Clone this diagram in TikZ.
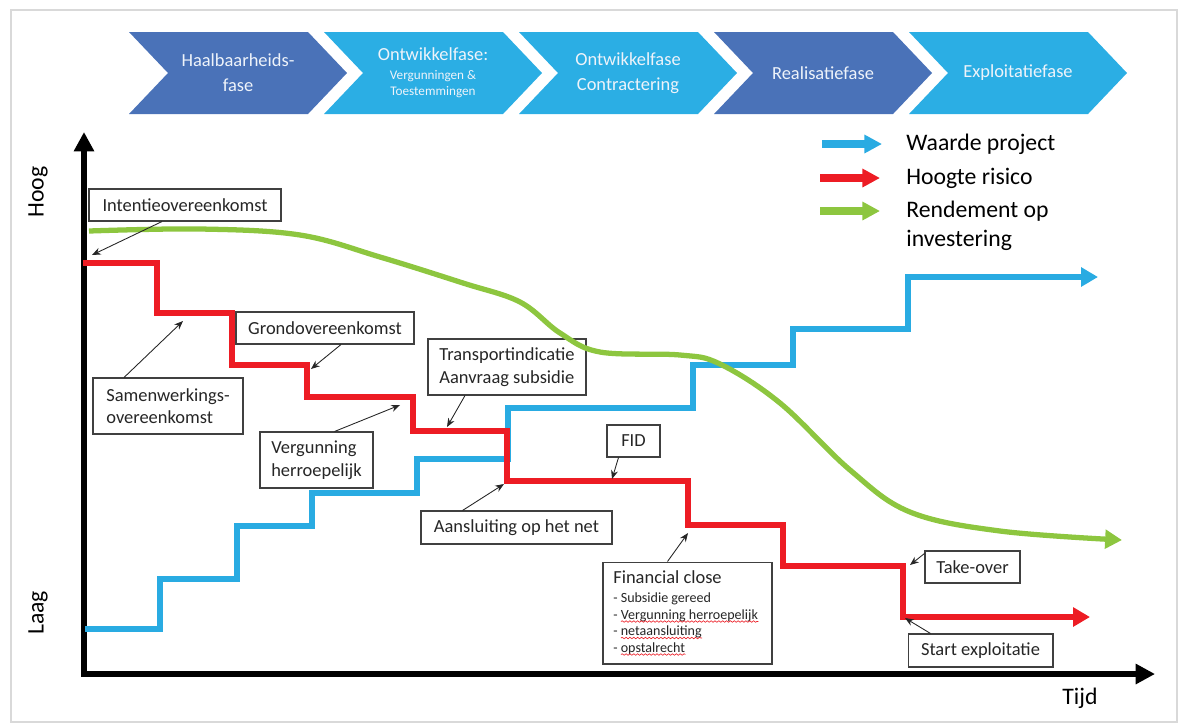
\documentclass[tikz,border=0pt]{standalone}
\usepackage{fontspec}
\setmainfont{Carlito}
\usepackage{tikz}
\usetikzlibrary{arrows.meta,calc,decorations.pathmorphing}
\usepackage{xcolor}

\definecolor{phdark}{HTML}{4A72B8}
\definecolor{phlight}{HTML}{2BAEE4}
\definecolor{phtext}{HTML}{EEF3FA}
\definecolor{valblue}{HTML}{29ABE2}
\definecolor{riskred}{HTML}{ED1C24}
\definecolor{roigreen}{HTML}{8DC63F}

\newcommand{\boxfont}{\fontsize{10.5}{12.8}\selectfont}
\newcommand{\legfont}{\fontsize{13.5}{16.5}\selectfont}
\newcommand{\subfont}{\fontsize{8}{9.4}\selectfont}
\newcommand{\phfont}{\fontsize{10.5}{14.2}\selectfont}
\newcommand{\phsmall}{\fontsize{7.5}{9}\selectfont}

\begin{document}
\begin{tikzpicture}[x=0.02cm, y=-0.02cm, >=Stealth,
    phase/.style={text=phtext, font=\phfont, align=center, inner sep=0pt},
    notebox/.style={draw=black!75, line width=0.6pt, fill=white, font=\boxfont,
      text=black!85, inner xsep=4pt, inner ysep=2pt},
    finline/.style={anchor=base west, inner sep=0pt, font=\subfont, text=black!85},
    spellwave/.style={riskred, line width=0.35pt, decorate,
      decoration={snake, segment length=2.2pt, amplitude=0.45pt}},
    note/.style={draw=black!85, line width=0.5pt, -{Stealth[length=5pt,width=4pt]}},
    valline/.style={valblue, line width=3pt, -{Triangle[length=9.6pt,width=10.5pt]}},
    riskline/.style={riskred, line width=3pt, -{Triangle[length=9.6pt,width=10.5pt]}},
    roiline/.style={roigreen, line width=3pt, -{Triangle[length=9.6pt,width=10.5pt]}},
    legarrow/.style={line width=4pt, -{Triangle[length=10pt,width=10pt]}},
    axisline/.style={black, line width=3.4pt, line join=miter}]
  \useasboundingbox (0,0) rectangle (1179,725);
  %% frame
  \draw[gray!30, line width=1pt] (11,10) rectangle (1177,722);

  %% Phases: 5 chevrons
  \foreach \i/\col/\lbl in {
    1/phdark/{Haalbaarheids-\\fase},
    2/phlight/{Ontwikkelfase:\\[-3.4pt]\phsmall Vergunningen \&\\[-5.2pt]\phsmall Toestemmingen},
    3/phlight/{Ontwikkelfase\\Contractering},
    4/phdark/{Realisatiefase},
    5/phlight/{Exploitatiefase}}{
    \pgfmathsetmacro\xa{129+195*(\i-1)}
    \fill[\col] (\xa,32) -- ++(179,0) -- ++(39,41) -- ++(-39,41) -- ++(-179,0) -- ++(39,-41) -- cycle;
    \node[phase] (ph\i) at (\xa+109,73) {\lbl};
  }

  %% Axes
  \coordinate (orig) at (84,674);
  \draw[axisline, {Triangle[length=11pt,width=11pt]}-{Triangle[length=11pt,width=11pt]}]
    (84,132) -- (orig) -- (1155,674);
  \node[rotate=90, font=\legfont] (hoog) at (38,192) {Hoog};
  \node[rotate=90, font=\legfont] (laag) at (38,613) {Laag};
  \node[font=\legfont] (tijd) at (1080,698) {Tijd};

  %% Milestone boxes
  \node[notebox, minimum width=3.84cm, minimum height=0.64cm] (intent) at (185,205) {Intentieovereenkomst};
  \node[notebox, align=left, minimum width=3.0cm, minimum height=1.12cm] (samen) at (168,406) {Samenwerkings-\\overeenkomst};
  \node[notebox, minimum width=3.56cm, minimum height=0.64cm] (grond) at (325,328) {Grondovereenkomst};
  \node[notebox, align=left, minimum width=2.26cm, minimum height=1.12cm] (verg) at (316.5,460) {Vergunning\\herroepelijk};
  \node[notebox, align=left, minimum width=3.16cm, minimum height=1.12cm] (transp) at (507,367) {Transportindicatie\\Aanvraag subsidie};
  \node[notebox, minimum width=3.82cm, minimum height=0.66cm] (aansl) at (516.5,527.5) {Aansluiting op het net};
  \node[notebox, minimum width=1.06cm, minimum height=0.64cm] (fid) at (633.5,441) {FID};
  \node[notebox, minimum width=3.38cm, minimum height=2.04cm] (fin) at (687.5,613) {};
  \node[finline, font=\boxfont] (finT) at (613,583) {Financial close};
  \node[finline] (fin1) at (613,602) {- Subsidie gereed};
  \node[finline] (fin2) at (613,619) {- Vergunning herroepelijk};
  \node[finline] (fin3) at (613,635.5) {- netaansluiting};
  \node[finline] (fin4) at (613,652) {- opstalrecht};
  \foreach \n in {fin2,fin3,fin4}{
    \draw[spellwave] ($(\n.base west)+(8,2.5)$) -- ($(\n.base east)+(0,2.5)$);
  }
  \node[notebox, minimum width=1.9cm, minimum height=0.64cm] (take) at (972.5,567) {Take-over};
  \node[notebox, minimum width=2.9cm, minimum height=0.66cm] (start) at (980.5,650.5) {Start exploitatie};

  %% Waarde project
  \draw[valline] (85,629) -- (160,629) -- (160,579) -- (237,579) -- (237,526) -- (312,526)
    -- (312,493) -- (417,493) -- (417,459) -- (508,459) -- (508,408) -- (693,408)
    -- (693,365) -- (793,365) -- (793,329) -- (908,329) -- (908,277) -- (1098,277);
  %% Hoogte risico
  \draw[riskline] (83,263) -- (157,263) -- (157,313) -- (232,313) -- (232,365) -- (307,365)
    -- (307,397) -- (413,397) -- (413,431) -- (507,431) -- (507,481) -- (688,481)
    -- (688,525) -- (783,525) -- (783,566) -- (903,566) -- (903,617) -- (1090,617);
  %% Rendement op investering
  \draw[roiline] plot[smooth, tension=0.6] coordinates {
    (89,231) (200,229) (300,235) (380,257) (463,283) (520,302) (560,333) (600,352)
    (680,355) (720,364) (780,403) (850,470) (910,512) (1000,531) (1122,540)};

  %% Pointers to the steps
  \coordinate (tInt) at (92,255);
  \coordinate (tSam) at (183,321);
  \coordinate (tGro) at (311,369);
  \coordinate (tVer) at (400,405);
  \coordinate (tTra) at (447,427);
  \coordinate (tAan) at (504,484);
  \coordinate (tFid) at (612,479);
  \coordinate (tFin) at (688,533);
  \coordinate (tTak) at (910,565);
  \coordinate (tSta) at (905,618);
  \draw[note] ($(intent.south)+(-23,0)$) -- (tInt);
  \draw[note] ($(samen.north)+(-44,0)$) -- (tSam);
  \draw[note] ($(grond.south)+(16,0)$) -- (tGro);
  \draw[note] ($(verg.north)+(18,0)$) -- (tVer);
  \draw[note] ($(transp.south)+(-42,0)$) -- (tTra);
  \draw[note] ($(aansl.north)+(-54,0)$) -- (tAan);
  \draw[note] ($(fid.south)+(-15,0)$) -- (tFid);
  \draw[note] ($(fin.north)+(-20,0)$) -- (tFin);
  \draw[note] ($(take.north west)+(0,3)$) -- (tTak);
  \draw[note] ($(start.north)+(-50,0)$) -- (tSta);

  %% Legend
  \begin{scope}[font=\legfont]
    \node[anchor=west, inner sep=0pt] (lgVal) at (906,144) {Waarde project};
    \node[anchor=west, inner sep=0pt] (lgRisk) at (906,178) {Hoogte risico};
    \node[anchor=west, inner sep=0pt, align=left] (lgRoi) at (906,225.5) {Rendement op\\investering};
    \draw[legarrow, valblue] ($(lgVal.west)+(-84,0)$) -- ($(lgVal.west)+(-24,0)$);
    \draw[legarrow, riskred] ($(lgRisk.west)+(-86,0)$) -- ($(lgRisk.west)+(-26,0)$);
    \draw[legarrow, roigreen] ($(lgRoi.west)+(-86,-14.5)$) -- ($(lgRoi.west)+(-26,-14.5)$);
  \end{scope}
\end{tikzpicture}
\end{document}
